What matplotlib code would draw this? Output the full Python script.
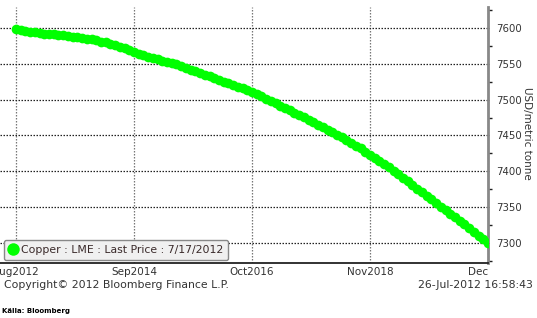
import matplotlib
matplotlib.use("Agg")
import matplotlib.pyplot as plt
import numpy as np

# Months from Aug 2012 (index 0) to Dec 2020 (index 100)
months = list(range(101))
prices = [
    7598, 7597, 7596, 7595, 7594, 7593, 7592, 7592, 7591, 7590.5,
    7590, 7589, 7588, 7587, 7586, 7585, 7584, 7582.5, 7581, 7580,
    7578, 7576, 7574, 7571.5, 7569, 7566, 7564, 7562, 7560, 7558,
    7556, 7554.5, 7553, 7551, 7549, 7547, 7544, 7542, 7539.5, 7537,
    7535, 7532.5, 7530, 7527.5, 7525, 7523, 7520.5, 7518, 7516, 7513.5,
    7511, 7508, 7504.5, 7501, 7498, 7495, 7491.5, 7488.5, 7485, 7482,
    7478.5, 7475.5, 7472, 7468.5, 7465, 7461.5, 7458, 7454.5, 7451, 7447.5,
    7444, 7440, 7436, 7432, 7427.5, 7423.5, 7419, 7414.5, 7410, 7405.5,
    7401, 7396, 7391, 7386, 7381, 7376, 7371, 7366, 7361, 7356,
    7351, 7346, 7341, 7336, 7331, 7326, 7321, 7315.5, 7310.5, 7305,
    7300,
]
xtick_pos = [0, 25, 50, 75, 100]
xtick_labels = ["Aug2012", "Sep2014", "Oct2016", "Nov2018", "Dec"]
ytick_vals = [7300, 7350, 7400, 7450, 7500, 7550, 7600]
series_label = "Copper : LME : Last Price : 7/17/2012"
y_title = "USD/metric tonne"

plt.rcParams['font.family'] = ['DejaVu Sans']
W, H = 537, 318
fig = plt.figure(figsize=(W / 100, H / 100), dpi=100)
ax = fig.add_axes([0, 55 / H, 488 / W, (263 - 7) / H])

green = '#00ff00'
ax.plot(months, prices, color=green, lw=4.2, marker='o', ms=7,
        markeredgewidth=0, zorder=3, label=series_label)

ax.set_xlim(-16 / 4.72, 100)
ax.set_ylim(7300 - 20 * 50 / 36, 7600 + 21 * 50 / 36)

ax.set_xticks(xtick_pos)
ax.set_xticklabels(xtick_labels)
ax.set_yticks(ytick_vals)
ax.set_yticks(np.arange(7275, 7630, 50), minor=True)

ax.yaxis.tick_right()

txtcol = '#333333'
ax.tick_params(axis='x', length=0, labelsize=7.5, labelcolor=txtcol, pad=3)
ax.tick_params(axis='y', which='major', length=0, labelsize=7.3,
               labelcolor=txtcol, pad=5)
ax.tick_params(axis='y', which='minor', length=3, width=1, color='#222222',
               direction='out')
for t in ax.yaxis.get_major_ticks():
    t.tick2line.set_marker(5)
    t.tick2line.set_markersize(7)
    t.tick2line.set_color('black')
    t.tick2line.set_markerfacecolor('black')
    t.tick2line.set_markeredgecolor('black')
ax.tick_params(axis='y', which='major', length=1)

labels = ax.get_xticklabels()
labels[-1].set_horizontalalignment('right')

ax.grid(axis='y', which='major', color='#222222', linestyle=(0, (1.2, 1.2)),
        lw=0.9)
ax.grid(axis='x', which='major', color='#777777', linestyle=(0, (1.2, 1.2)),
        lw=0.9)

for s in ['top', 'left']:
    ax.spines[s].set_visible(False)
ax.spines['right'].set_color('#888888')
ax.spines['right'].set_linewidth(2)
ax.spines['bottom'].set_color('#222222')
ax.spines['bottom'].set_linewidth(1.3)

fig.text(527 / W, 1 - 133 / H, y_title, rotation=270, fontsize=7.5,
         color=txtcol, ha='center', va='center')

leg = ax.legend(loc='lower left', bbox_to_anchor=(4 / 488, 3 / 256),
                frameon=True, fancybox=True, fontsize=7.8,
                handlelength=0.8, handletextpad=0.3, borderpad=0.45,
                borderaxespad=0)
leg.get_frame().set_facecolor('#f0f0f0')
leg.get_frame().set_edgecolor('#888888')
leg.get_frame().set_linewidth(1)
leg.get_frame().set_alpha(1)
for h in leg.legend_handles:
    h.set_linestyle('none')
    h.set_markersize(9)
for t in leg.get_texts():
    t.set_color('#3a2a2a')

fig.text(4 / W, 1 - 285 / H, "Copyright\u00a9 2012 Bloomberg Finance L.P.",
         fontsize=7.8, color=txtcol, va='center', ha='left')
fig.text(533 / W, 1 - 285 / H, "26-Jul-2012 16:58:43",
         fontsize=7.8, color=txtcol, va='center', ha='right')
fig.text(2 / W, 1 - 311 / H, "Källa: Bloomberg", fontsize=5,
         fontweight='bold', color='black', va='center', ha='left')

fig.savefig("out.png", dpi=100)
